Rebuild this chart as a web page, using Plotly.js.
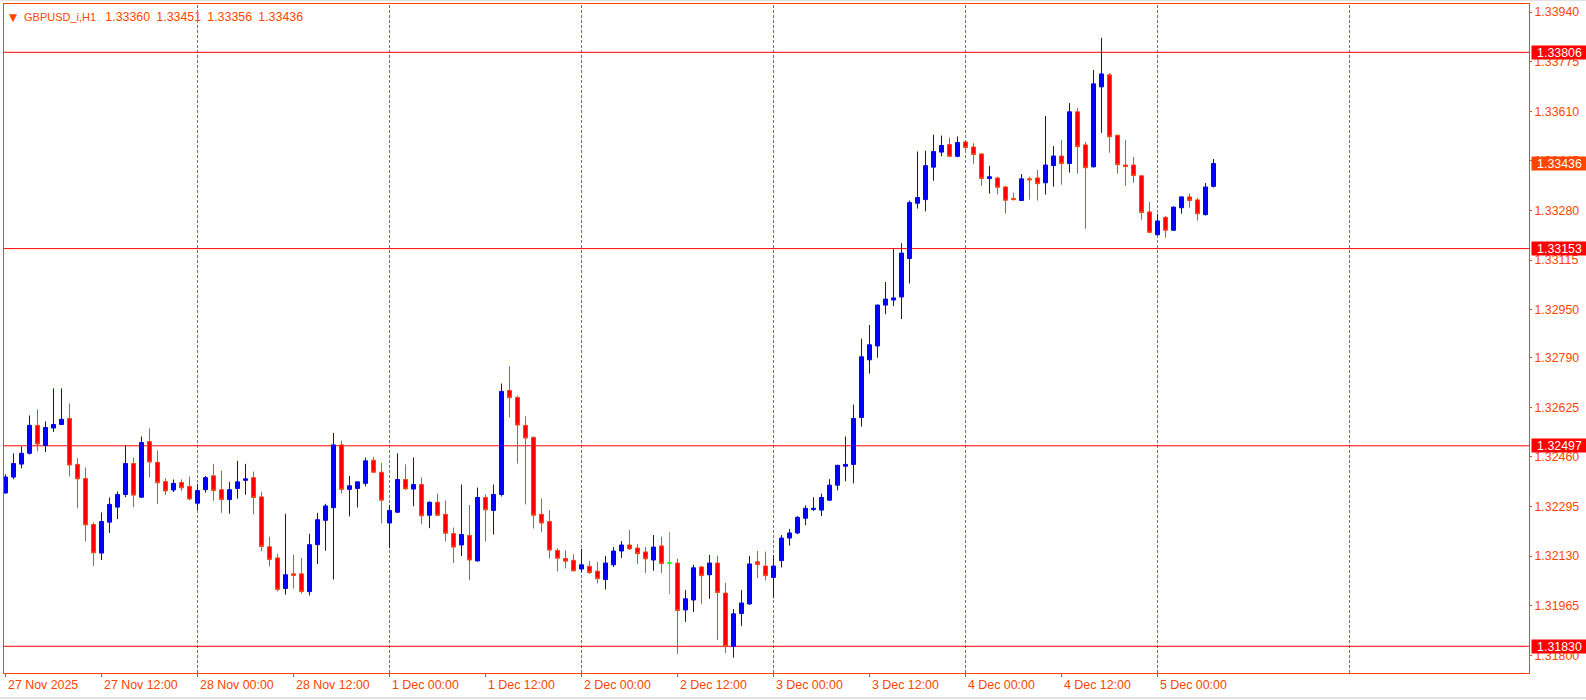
<!DOCTYPE html>
<html>
<head>
<meta charset="utf-8">
<script src="https://cdn.plot.ly/plotly-3.0.1.min.js"></script>
<style>
html,body{margin:0;padding:0;background:#ffffff;overflow:hidden}
#chart{width:1586px;height:700px}
</style>
</head>
<body>
<div id="chart"></div>
<script>
// ---- data (GBPUSD_i, H1, first bar 27 Nov 2025 00:00) ----
const symbol = 'GBPUSD_i,H1';

const open = [
1.32340,1.32393,1.32436,1.32472,1.32565,1.32498,1.32556,1.32568,1.32588,1.32435,1.32388,1.32235,1.32140,1.32243,1.32293,1.32335,1.32438,1.32326,1.32511,1.32442,1.32378,1.32350,1.32375,1.32362,
1.32306,1.32351,1.32397,1.32351,1.32318,1.32355,1.32382,1.32391,1.32327,1.32161,1.32124,1.32022,1.32071,1.32071,1.32012,1.32168,1.32249,1.32291,1.32500,1.32352,1.32355,1.32372,1.32449,1.32409,
1.32240,1.32276,1.32385,1.32353,1.32368,1.32266,1.32309,1.32269,1.32205,1.32167,1.32199,1.32114,1.32325,1.32282,1.32335,1.32681,1.32658,1.32565,1.32525,1.32269,1.32245,1.32149,1.32122,1.32116,
1.32087,1.32096,1.32080,1.32052,1.32101,1.32147,1.32167,1.32157,1.32144,1.32117,1.32164,1.32107,1.32107,1.31951,1.31984,1.32094,1.32068,1.32107,1.32007,1.31830,1.31939,1.31971,1.32111,1.32097,
1.32059,1.32115,1.32190,1.32207,1.32256,1.32285,1.32283,1.32316,1.32366,1.32429,1.32435,1.32591,1.32783,1.32829,1.32965,1.32982,1.32992,1.33120,1.33304,1.33316,1.33424,1.33474,1.33499,1.33460,
1.33508,1.33491,1.33468,1.33386,1.33388,1.33358,1.33320,1.33313,1.33385,1.33388,1.33372,1.33429,1.33461,1.33436,1.33608,1.33498,1.33425,1.33691,1.33731,1.33530,1.33431,1.33431,1.33395,1.33275,
1.33199,1.33257,1.33214,1.33289,1.33325,1.33315,1.33266,1.33360
];
const high = [
1.32402,1.32472,1.32495,1.32598,1.32618,1.32578,1.32688,1.32688,1.32638,1.32456,1.32425,1.32242,1.32275,1.32325,1.32345,1.32497,1.32458,1.32528,1.32555,1.32481,1.32389,1.32385,1.32385,1.32395,
1.32370,1.32397,1.32437,1.32414,1.32377,1.32447,1.32437,1.32411,1.32344,1.32194,1.32138,1.32271,1.32134,1.32124,1.32204,1.32274,1.32304,1.32540,1.32514,1.32397,1.32379,1.32458,1.32460,1.32440,
1.32300,1.32472,1.32435,1.32458,1.32392,1.32312,1.32338,1.32315,1.32225,1.32368,1.32300,1.32358,1.32335,1.32368,1.32704,1.32761,1.32664,1.32595,1.32528,1.32322,1.32282,1.32156,1.32149,1.32136,
1.32154,1.32114,1.32111,1.32131,1.32160,1.32180,1.32217,1.32170,1.32160,1.32200,1.32194,1.32210,1.32121,1.32017,1.32101,1.32097,1.32134,1.32131,1.32041,1.31954,1.32017,1.32131,1.32147,1.32145,
1.32134,1.32200,1.32220,1.32263,1.32299,1.32326,1.32338,1.32386,1.32434,1.32528,1.32634,1.32853,1.32899,1.32967,1.33042,1.33151,1.33171,1.33313,1.33476,1.33479,1.33532,1.33529,1.33522,1.33526,
1.33511,1.33504,1.33470,1.33428,1.33392,1.33362,1.33339,1.33401,1.33392,1.33415,1.33594,1.33494,1.33514,1.33637,1.33621,1.33508,1.33747,1.33854,1.33737,1.33532,1.33514,1.33458,1.33397,1.33308,
1.33268,1.33262,1.33293,1.33327,1.33336,1.33321,1.33371,1.33451
];
const low = [
1.32338,1.32386,1.32422,1.32468,1.32479,1.32476,1.32543,1.32566,1.32395,1.32289,1.32179,1.32097,1.32117,1.32207,1.32253,1.32326,1.32293,1.32323,1.32393,1.32303,1.32333,1.32343,1.32347,1.32316,
1.32283,1.32341,1.32314,1.32274,1.32271,1.32321,1.32334,1.32269,1.32146,1.32096,1.32012,1.32002,1.32022,1.32006,1.31999,1.32104,1.32148,1.32052,1.32338,1.32262,1.32292,1.32362,1.32408,1.32239,
1.32156,1.32274,1.32350,1.32296,1.32236,1.32223,1.32263,1.32179,1.32107,1.32130,1.32050,1.32112,1.32179,1.32202,1.32328,1.32592,1.32438,1.32302,1.32222,1.32210,1.32122,1.32079,1.32089,1.32079,
1.32077,1.32071,1.32039,1.32019,1.32094,1.32124,1.32150,1.32104,1.32074,1.32081,1.32074,1.32004,1.31804,1.31911,1.31944,1.31971,1.31988,1.31851,1.31808,1.31792,1.31898,1.31968,1.32057,1.32049,
1.31990,1.32092,1.32165,1.32203,1.32233,1.32280,1.32263,1.32314,1.32349,1.32379,1.32372,1.32561,1.32737,1.32790,1.32935,1.32962,1.32919,1.33037,1.33286,1.33277,1.33379,1.33460,1.33457,1.33457,
1.33479,1.33435,1.33362,1.33336,1.33333,1.33269,1.33313,1.33311,1.33316,1.33313,1.33333,1.33359,1.33366,1.33406,1.33402,1.33219,1.33423,1.33538,1.33472,1.33402,1.33362,1.33372,1.33249,1.33205,
1.33197,1.33189,1.33212,1.33269,1.33289,1.33246,1.33263,1.33356
];
const close = [
1.32393,1.32438,1.32472,1.32565,1.32503,1.32558,1.32568,1.32585,1.32433,1.32387,1.32234,1.32141,1.32245,1.32302,1.32335,1.32438,1.32333,1.32508,1.32443,1.32374,1.32347,1.32372,1.32357,1.32320,
1.32348,1.32391,1.32348,1.32318,1.32351,1.32377,1.32387,1.32325,1.32162,1.32119,1.32019,1.32068,1.32066,1.32012,1.32168,1.32251,1.32297,1.32500,1.32352,1.32364,1.32377,1.32447,1.32409,1.32316,
1.32282,1.32385,1.32354,1.32368,1.32264,1.32309,1.32266,1.32206,1.32160,1.32202,1.32117,1.32325,1.32284,1.32335,1.32678,1.32657,1.32566,1.32523,1.32266,1.32240,1.32150,1.32123,1.32113,1.32081,
1.32101,1.32075,1.32055,1.32107,1.32147,1.32167,1.32154,1.32138,1.32121,1.32160,1.32105,1.32107,1.31949,1.31988,1.32091,1.32065,1.32107,1.32009,1.31830,1.31938,1.31974,1.32104,1.32102,1.32065,
1.32097,1.32190,1.32207,1.32259,1.32289,1.32289,1.32325,1.32366,1.32432,1.32435,1.32588,1.32793,1.32833,1.32965,1.32985,1.32989,1.33138,1.33306,1.33323,1.33429,1.33476,1.33496,1.33460,1.33506,
1.33489,1.33466,1.33386,1.33392,1.33357,1.33314,1.33316,1.33385,1.33382,1.33369,1.33431,1.33461,1.33436,1.33608,1.33492,1.33422,1.33701,1.33734,1.33525,1.33432,1.33426,1.33396,1.33273,1.33207,
1.33245,1.33214,1.33291,1.33325,1.33313,1.33269,1.33358,1.33436
];

const levels = [1.33806, 1.33153, 1.32497, 1.31830];
const yTicks = [1.33940, 1.33775, 1.33610, 1.33445, 1.33280, 1.33115, 1.32950, 1.32790, 1.32625, 1.32460, 1.32295, 1.32130, 1.31965, 1.31800];
const xTickLabels = ['27 Nov 2025','27 Nov 12:00','28 Nov 00:00','28 Nov 12:00','1 Dec 00:00','1 Dec 12:00',
  '2 Dec 00:00','2 Dec 12:00','3 Dec 00:00','3 Dec 12:00','4 Dec 00:00','4 Dec 12:00','5 Dec 00:00'];
const barsPerLabel = 12;
const barsPerDay = 24;

// ---- styles ----
const FONT = 'Liberation Sans, Arial, sans-serif';
const AXIS = '#FF4500';
const BULL = '#0000FF';
const BEAR_LINE = '#FF4500';
const BEAR_FILL = '#FF0000';
const DOJI = '#00FF00';
const LEVEL = '#FF0000';
const FS = 12.4;

const n = open.length;
const idx = open.map((_, i) => i);
const isDoji = i => open[i] === close[i];
const pick = (arr, want) => arr.filter((_, i) => isDoji(i) === want);

const main = {
  type: 'candlestick',
  x: pick(idx, false), open: pick(open, false), high: pick(high, false), low: pick(low, false), close: pick(close, false),
  increasing: {line: {color: BULL, width: 1}, fillcolor: BULL},
  decreasing: {line: {color: BEAR_LINE, width: 1}, fillcolor: BEAR_FILL},
  hoverinfo: 'skip', showlegend: false
};
const doji = {
  type: 'candlestick',
  x: pick(idx, true), open: pick(open, true), high: pick(high, true), low: pick(low, true), close: pick(close, true),
  increasing: {line: {color: DOJI, width: 1}, fillcolor: DOJI},
  decreasing: {line: {color: DOJI, width: 1}, fillcolor: DOJI},
  hoverinfo: 'skip', showlegend: false
};

const xRange = [-0.1875, 190.4375];
const yRange = [1.3174113, 1.339667];

const shapes = [];
for (let d = barsPerDay; d <= xRange[1]; d += barsPerDay) {
  shapes.push({type: 'line', layer: 'below', xref: 'x', yref: 'paper', x0: d, x1: d, y0: 0, y1: 1,
    line: {color: AXIS, width: 1, dash: '3px,2px'}});
}
levels.forEach(v => shapes.push({type: 'line', layer: 'below', xref: 'paper', yref: 'y', x0: 0, x1: 1, y0: v, y1: v,
  line: {color: LEVEL, width: 1}}));
// window edge strips (top and bottom of the terminal window)
shapes.push({type: 'rect', layer: 'above', xref: 'paper', yref: 'paper', x0: -0.003, x1: 1.04, y0: -0.03587, y1: -0.03887,
  line: {width: 0}, fillcolor: '#E2E2E2'});
shapes.push({type: 'rect', layer: 'above', xref: 'paper', yref: 'paper', x0: -0.003, x1: 1.04, y0: 1.00448, y1: 1.00598,
  line: {width: 0}, fillcolor: '#E2E2E2'});

const annotations = [];
xTickLabels.forEach((t, i) => annotations.push({
  xref: 'x', yref: 'paper', x: i * barsPerLabel, y: 0, xanchor: 'left', yanchor: 'top', yshift: -3,
  text: t, showarrow: false, font: {family: FONT, size: FS, color: AXIS}, borderpad: 1
}));
levels.forEach(v => annotations.push({
  xref: 'paper', yref: 'y', x: 1, y: v, xanchor: 'left', yanchor: 'middle', xshift: 2,
  text: v.toFixed(5), showarrow: false, bgcolor: LEVEL, width: 53, height: 11, align: 'center', borderpad: 1,
  font: {family: FONT, size: FS, color: '#FFFFFF'}
}));
const last = n - 1;
annotations.push({
  xref: 'paper', yref: 'y', x: 1, y: close[last], xanchor: 'left', yanchor: 'middle', xshift: 2,
  text: close[last].toFixed(5), showarrow: false, bgcolor: AXIS, width: 53, height: 11, align: 'center', borderpad: 1,
  font: {family: FONT, size: FS, color: '#FFFFFF'}
});
annotations.push({
  xref: 'paper', yref: 'paper', x: 0, y: 1, xanchor: 'left', yanchor: 'top', xshift: 3, yshift: -5,
  text: '▼', showarrow: false, font: {family: 'DejaVu Sans, sans-serif', size: 10.5, color: AXIS}
});
annotations.push({
  xref: 'paper', yref: 'paper', x: 0, y: 1, xanchor: 'left', yanchor: 'top', xshift: 18, yshift: -4,
  text: symbol + '\u00a0\u00a0 <span style="font-size:' + FS + 'px">' +
        [open[last], high[last], low[last], close[last]].map(v => v.toFixed(5)).join('\u2002') + '</span>',
  showarrow: false, font: {family: FONT, size: 11, color: AXIS}
});

const layout = {
  width: 1586, height: 700,
  margin: {l: 4, r: 57, t: 4, b: 27},
  paper_bgcolor: '#FFFFFF', plot_bgcolor: '#FFFFFF',
  showlegend: false,
  boxgap: 0.5, boxgroupgap: 0,
  xaxis: {
    type: 'linear', range: xRange, showgrid: false, zeroline: false, rangeslider: {visible: false},
    showline: true, mirror: true, linecolor: AXIS, linewidth: 1,
    tickmode: 'array', tickvals: xTickLabels.map((_, i) => i * barsPerLabel),
    ticks: 'outside', ticklen: 3, tickcolor: AXIS, tickwidth: 1, showticklabels: false, fixedrange: true
  },
  yaxis: {
    side: 'right', range: yRange, showgrid: false, zeroline: false,
    showline: true, mirror: true, linecolor: AXIS, linewidth: 1,
    tickmode: 'array', tickvals: yTicks, ticktext: yTicks.map(v => v.toFixed(5)),
    ticks: 'outside', ticklen: 2, tickcolor: AXIS, tickwidth: 1,
    tickfont: {family: FONT, size: FS, color: AXIS}, fixedrange: true
  },
  shapes: shapes,
  annotations: annotations
};

Plotly.newPlot('chart', [main, doji], layout, {displayModeBar: false, staticPlot: true});
</script>
</body>
</html>
